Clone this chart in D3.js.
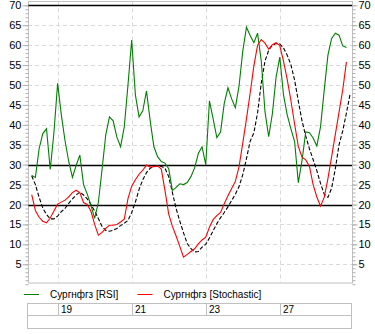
<!DOCTYPE html>
<html>
<head>
<meta charset="utf-8">
<script src="https://cdn.jsdelivr.net/npm/d3@7/dist/d3.min.js"></script>
<style>
  html, body { margin: 0; padding: 0; background: #fff; }
  svg { display: block; }
  text { font-family: "Liberation Sans", Arial, sans-serif; font-size: 11px; fill: #000; }
</style>
</head>
<body>
<svg id="chart" width="375" height="334"></svg>
<script>
// Hourly oscillator values for the ticker (RSI, Stochastic %K and its signal line)
const rsiValues = [27.3, 26.8, 34.0, 37.8, 39.0, 28.8, 38.0, 50.4, 42.5, 36.0,
  30.8, 26.8, 29.8, 32.4, 25.0, 22.6, 19.8, 16.5, 20.5, 28.8,
  37.5, 42.0, 41.0, 36.9, 34.5, 39.5, 50.0, 61.3, 47.5, 42.0,
  43.5, 48.5, 41.0, 34.5, 32.0, 30.8, 30.4, 29.0, 23.5, 24.3,
  25.2, 25.0, 25.5, 27.0, 29.2, 32.8, 34.5, 30.0, 46.0, 41.5,
  36.8, 38.2, 45.4, 49.3, 46.5, 44.3, 49.8, 58.5, 64.5, 62.4,
  60.6, 63.0, 56.0, 43.3, 37.0, 42.8, 52.0, 57.0, 47.5, 42.5,
  39.0, 35.8, 25.5, 31.0, 38.2, 38.0, 36.7, 34.7, 39.5, 48.7,
  57.5, 61.7, 63.0, 62.5, 59.8, 59.4];

const stochValues = [22.5, 18.5, 16.8, 15.8, 15.4, 16.6, 18.4, 20.1, 20.6, 21.1,
  21.9, 23.0, 23.6, 23.0, 20.5, 20.0, 18.3, 15.0, 12.3, 13.0,
  14.0, 14.8, 14.8, 15.0, 15.6, 16.3, 21.5, 24.6, 26.2, 27.6,
  28.6, 29.9, 29.4, 29.5, 29.7, 28.9, 23.5, 17.6, 14.5, 12.1,
  9.5, 6.8, 7.5, 8.2, 8.9, 10.1, 11.1, 11.8, 14.3, 16.2,
  17.2, 18.0, 20.2, 22.2, 24.0, 25.8, 29.5, 35.4, 41.5, 48.0,
  54.8, 60.0, 61.4, 60.5, 59.0, 60.1, 60.6, 59.9, 56.0, 51.4,
  46.1, 40.2, 34.6, 31.9, 31.2, 29.6, 25.0, 21.9, 19.6, 21.8,
  26.5, 32.0, 37.6, 43.2, 48.8, 55.8];

const signalValues = [27.2, 25.0, 21.8, 19.1, 17.5, 16.4, 16.4, 17.1, 18.2, 19.0,
  20.3, 21.4, 22.4, 23.1, 22.4, 21.4, 20.0, 18.4, 16.5, 14.5,
  13.5, 13.3, 13.5, 14.0, 14.7, 15.3, 16.0, 18.0, 20.6, 23.8,
  26.2, 28.0, 29.1, 29.6, 29.7, 29.6, 29.1, 27.0, 23.0, 19.0,
  15.8, 12.9, 10.2, 8.9, 8.1, 8.2, 9.3, 10.0, 11.6, 13.4,
  15.2, 16.7, 18.0, 19.4, 21.0, 22.6, 24.5, 27.5, 31.5, 35.9,
  38.0, 43.0, 50.5, 56.0, 58.7, 60.0, 60.4, 60.3, 59.3, 57.5,
  55.1, 51.2, 46.0, 41.0, 37.2, 34.0, 31.3, 28.5, 25.3, 22.6,
  21.8, 24.1, 29.0, 35.0, 38.5, 43.0, 47.8];

// First bar of each labelled trading day
const dayLabels = ["19", "21", "23", "27"];
const dayStartIndex = [7, 27, 47, 67];

// Overbought / oversold guide levels
const guideLevels = [20, 30, 70];

// Value-axis labels
const yTickLabels = [5, 10, 15, 20, 25, 30, 35, 40, 45, 50, 55, 60, 65, 70];

const seriesNames = ["Сургнфгз [RSI]", "Сургнфгз [Stochastic]"];
const seriesColors = ["#008000", "#ff0000"];

const svg = d3.select("#chart");
const plotLeft = 28, plotRight = 352, plotTop = 1.5, plotBottom = 283;

const x = d3.scaleLinear().domain([-1, 86.5]).range([plotLeft, plotRight]);
const y = d3.scaleLinear().domain([0, 70]).range([284.2, 5.3]);

const gridColor = "#d9d9d9";
const frameColor = "#c0c0c0";

// frame
svg.append("rect")
  .attr("x", plotLeft + 0.5).attr("y", plotTop)
  .attr("width", plotRight - plotLeft).attr("height", plotBottom - plotTop)
  .attr("fill", "#fff").attr("stroke", frameColor).attr("stroke-width", 1);

// dashed horizontal grid
svg.append("g").selectAll("line")
  .data(yTickLabels.filter(v => !guideLevels.includes(v)))
  .join("line")
  .attr("x1", plotLeft).attr("x2", plotRight)
  .attr("y1", d => Math.round(y(d)) + 0.5).attr("y2", d => Math.round(y(d)) + 0.5)
  .attr("stroke", gridColor).attr("stroke-dasharray", "4,3");

// dashed vertical day grid
svg.append("g").selectAll("line")
  .data(dayStartIndex)
  .join("line")
  .attr("x1", d => Math.round(x(d)) + 0.5).attr("x2", d => Math.round(x(d)) + 0.5)
  .attr("y1", plotTop).attr("y2", plotBottom)
  .attr("stroke", gridColor).attr("stroke-dasharray", "4,3");

// guide levels
svg.append("g").selectAll("line")
  .data(guideLevels)
  .join("line")
  .attr("x1", plotLeft).attr("x2", plotRight)
  .attr("y1", d => Math.round(y(d)) + 0.5).attr("y2", d => Math.round(y(d)) + 0.5)
  .attr("stroke", "#000").attr("stroke-width", 1.3);

// axes
function styleAxis(g) {
  g.select(".domain").attr("stroke", frameColor);
  g.selectAll(".tick line").attr("stroke", "#b0b0b0");
  g.selectAll("text").style("font-family", "Liberation Sans, Arial, sans-serif").style("font-size", "11px").attr("fill", "#000");
}
const minorTicks = d3.range(0, 71, 1);

const leftMinor = svg.append("g").attr("transform", `translate(${plotLeft + 0.5},0)`)
  .call(d3.axisLeft(y).tickValues(minorTicks).tickSize(3).tickFormat(""));
styleAxis(leftMinor); leftMinor.select(".domain").remove();
const leftAxis = svg.append("g").attr("transform", `translate(${plotLeft + 0.5},0)`)
  .call(d3.axisLeft(y).tickValues(yTickLabels).tickSize(6).tickSizeOuter(0).tickPadding(1).tickFormat(d3.format("d")));
styleAxis(leftAxis); leftAxis.select(".domain").remove();

const rightMinor = svg.append("g").attr("transform", `translate(${plotRight + 0.5},0)`)
  .call(d3.axisRight(y).tickValues(minorTicks).tickSize(3).tickFormat(""));
styleAxis(rightMinor); rightMinor.select(".domain").remove();
const rightAxis = svg.append("g").attr("transform", `translate(${plotRight + 0.5},0)`)
  .call(d3.axisRight(y).tickValues(yTickLabels).tickSize(5).tickSizeOuter(0).tickPadding(1).tickFormat(d3.format("d")));
styleAxis(rightAxis); rightAxis.select(".domain").remove();

// series lines
const line = d3.line().x((d, i) => x(i)).y(d => y(d));
const plot = svg.append("g");

plot.append("path").datum(signalValues)
  .attr("d", line).attr("fill", "none")
  .attr("stroke", "#000").attr("stroke-width", 1.1).attr("stroke-dasharray", "4,2");

plot.append("path").datum(rsiValues)
  .attr("d", line).attr("fill", "none")
  .attr("stroke", seriesColors[0]).attr("stroke-width", 1.1);

plot.append("path").datum(stochValues)
  .attr("d", line).attr("fill", "none")
  .attr("stroke", seriesColors[1]).attr("stroke-width", 1.1);

// legend
const legend = svg.append("g");
const legendX = [24, 137.5];
seriesNames.forEach((name, i) => {
  legend.append("line")
    .attr("x1", legendX[i]).attr("x2", legendX[i] + 15)
    .attr("y1", 294.5).attr("y2", 294.5)
    .attr("stroke", seriesColors[i]).attr("stroke-width", 1);
  legend.append("text")
    .attr("x", legendX[i] + 26).attr("y", 298)
    .style("font-size", "10px")
    .text(name);
});

// date table
const table = svg.append("g");
table.append("rect")
  .attr("x", 27.5).attr("y", 303.5).attr("width", 324).attr("height", 25)
  .attr("fill", "none").attr("stroke", frameColor);
table.append("line")
  .attr("x1", 27.5).attr("x2", 351.5).attr("y1", 315.5).attr("y2", 315.5)
  .attr("stroke", frameColor);
table.selectAll(".sep").data(dayStartIndex).join("line")
  .attr("x1", d => Math.round(x(d)) + 0.5).attr("x2", d => Math.round(x(d)) + 0.5)
  .attr("y1", 303.5).attr("y2", 315.5)
  .attr("stroke", frameColor);
table.selectAll(".lbl").data(dayLabels).join("text")
  .attr("x", (d, i) => Math.round(x(dayStartIndex[i])) + 3)
  .attr("y", 313)
  .style("font-size", "10px")
  .text(d => d);
</script>
</body>
</html>
